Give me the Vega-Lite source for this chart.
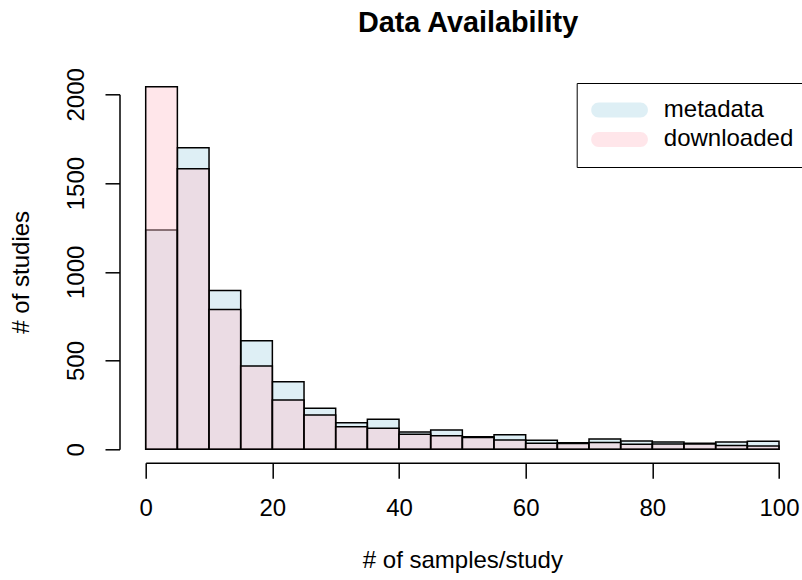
{
  "$schema": "https://vega.github.io/schema/vega-lite/v6.json",
  "width": 633.3,
  "height": 355,
  "autosize": {"type": "none"},
  "padding": {"left": 145.7, "top": 94.3, "right": 23, "bottom": 130.7},
  "title": {
    "text": "Data Availability",
    "anchor": "middle",
    "frame": "group",
    "font": "Liberation Sans",
    "fontSize": 28.8,
    "fontWeight": "bold",
    "color": "black",
    "baseline": "alphabetic",
    "offset": 7.3,
    "dx": 5.7
  },
  "config": {
    "view": {"stroke": null},
    "font": "Liberation Sans",
    "axis": {
      "grid": false,
      "domainColor": "black",
      "domainWidth": 1.5,
      "tickColor": "black",
      "tickWidth": 1.5,
      "tickSize": 15,
      "labelFont": "Liberation Sans",
      "labelFontSize": 24,
      "labelColor": "black",
      "titleFont": "Liberation Sans",
      "titleFontSize": 24,
      "titleFontWeight": "normal",
      "titleColor": "black"
    },
    "legend": {
      "orient": "none",
      "legendX": 431,
      "legendY": -11.3,
      "padding": 15,
      "strokeColor": "black",
      "fillColor": "white",
      "labelFont": "Liberation Sans",
      "labelFontSize": 24,
      "labelColor": "black",
      "symbolOffset": 15.85,
      "labelOffset": 32.25,
      "rowPadding": 5.4,
      "symbolType": "M-2.78,-1 L2.78,-1 A1,1 0 0 1 2.78,1 L-2.78,1 A1,1 0 0 1 -2.78,-1 Z",
      "symbolSize": 225,
      "symbolStrokeWidth": 0,
      "symbolOpacity": 0.4
    }
  },
  "data": {
    "values": [
      {"set": "metadata", "start": 0, "end": 5, "count": 1235},
      {"set": "metadata", "start": 5, "end": 10, "count": 1699},
      {"set": "metadata", "start": 10, "end": 15, "count": 894},
      {"set": "metadata", "start": 15, "end": 20, "count": 612},
      {"set": "metadata", "start": 20, "end": 25, "count": 381},
      {"set": "metadata", "start": 25, "end": 30, "count": 231},
      {"set": "metadata", "start": 30, "end": 35, "count": 150},
      {"set": "metadata", "start": 35, "end": 40, "count": 169},
      {"set": "metadata", "start": 40, "end": 45, "count": 97},
      {"set": "metadata", "start": 45, "end": 50, "count": 109},
      {"set": "metadata", "start": 50, "end": 55, "count": 71},
      {"set": "metadata", "start": 55, "end": 60, "count": 82},
      {"set": "metadata", "start": 60, "end": 65, "count": 51},
      {"set": "metadata", "start": 65, "end": 70, "count": 37},
      {"set": "metadata", "start": 70, "end": 75, "count": 58},
      {"set": "metadata", "start": 75, "end": 80, "count": 47},
      {"set": "metadata", "start": 80, "end": 85, "count": 41},
      {"set": "metadata", "start": 85, "end": 90, "count": 34},
      {"set": "metadata", "start": 90, "end": 95, "count": 41},
      {"set": "metadata", "start": 95, "end": 100, "count": 45},
      {"set": "downloaded", "start": 0, "end": 5, "count": 2043},
      {"set": "downloaded", "start": 5, "end": 10, "count": 1581},
      {"set": "downloaded", "start": 10, "end": 15, "count": 788},
      {"set": "downloaded", "start": 15, "end": 20, "count": 469},
      {"set": "downloaded", "start": 20, "end": 25, "count": 278},
      {"set": "downloaded", "start": 25, "end": 30, "count": 193},
      {"set": "downloaded", "start": 30, "end": 35, "count": 127},
      {"set": "downloaded", "start": 35, "end": 40, "count": 118},
      {"set": "downloaded", "start": 40, "end": 45, "count": 85},
      {"set": "downloaded", "start": 45, "end": 50, "count": 77},
      {"set": "downloaded", "start": 50, "end": 55, "count": 67},
      {"set": "downloaded", "start": 55, "end": 60, "count": 52},
      {"set": "downloaded", "start": 60, "end": 65, "count": 34},
      {"set": "downloaded", "start": 65, "end": 70, "count": 33},
      {"set": "downloaded", "start": 70, "end": 75, "count": 39},
      {"set": "downloaded", "start": 75, "end": 80, "count": 29},
      {"set": "downloaded", "start": 80, "end": 85, "count": 30},
      {"set": "downloaded", "start": 85, "end": 90, "count": 30},
      {"set": "downloaded", "start": 90, "end": 95, "count": 22},
      {"set": "downloaded", "start": 95, "end": 100, "count": 19}
    ]
  },
  "encoding": {
    "x": {
      "field": "start",
      "type": "quantitative",
      "scale": {"domain": [0, 100], "nice": false, "zero": false},
      "axis": {
        "values": [0, 20, 40, 60, 80, 100],
        "offset": 13.4,
        "tickSize": 15.5,
        "labelBaseline": "alphabetic",
        "labelPadding": 37.3,
        "labelFlush": false,
        "labelOverlap": false,
        "title": "# of samples/study",
        "titleBaseline": "alphabetic",
        "titleY": 105
      }
    },
    "x2": {"field": "end"},
    "y": {
      "field": "count",
      "type": "quantitative",
      "scale": {"domain": [0, 2000], "nice": false},
      "axis": {
        "values": [0, 500, 1000, 1500, 2000],
        "format": "d",
        "offset": 26.2,
        "tickSize": 14.5,
        "labelAngle": -90,
        "labelAlign": "center",
        "labelBaseline": "alphabetic",
        "labelPadding": 21.5,
        "labelFlush": false,
        "labelOverlap": false,
        "title": "# of studies",
        "titleAngle": -90,
        "titleBaseline": "alphabetic",
        "titleX": -91.2
      }
    },
    "y2": {"datum": 0},
    "color": {
      "field": "set",
      "type": "nominal",
      "scale": {"domain": ["metadata", "downloaded"], "range": ["#ADD8E6", "#FFC0CB"]},
      "legend": {"title": null}
    }
  },
  "layer": [
    {
      "transform": [{"filter": "datum.set === 'metadata'"}],
      "mark": {"type": "bar", "fillOpacity": 0.4, "stroke": "black", "strokeWidth": 1.5}
    },
    {
      "transform": [{"filter": "datum.set === 'downloaded'"}],
      "mark": {"type": "bar", "fillOpacity": 0.4, "stroke": "black", "strokeWidth": 1.5}
    }
  ]
}
